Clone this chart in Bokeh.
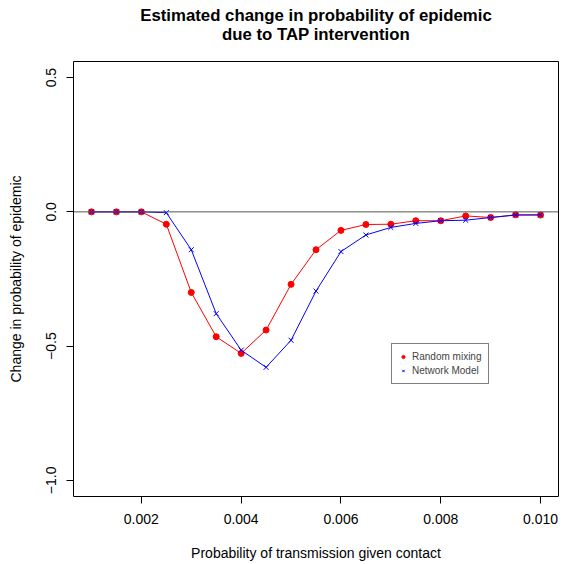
from bokeh.plotting import figure
from bokeh.models import Span, Legend, LegendItem, FixedTicker, Title
from bokeh.embed import file_html
from bokeh.resources import INLINE

# ---- data ----
prob = [0.001, 0.0015, 0.002, 0.0025, 0.003, 0.0035, 0.004, 0.0045, 0.005, 0.0055,
        0.006, 0.0065, 0.007, 0.0075, 0.008, 0.0085, 0.009, 0.0095, 0.010]
random_mixing = [0.0, 0.0, 0.0, -0.046, -0.30, -0.465, -0.527, -0.44, -0.27, -0.141,
                 -0.069, -0.047, -0.046, -0.033, -0.033, -0.015, -0.021, -0.011, -0.012]
network_model = [0.0, 0.0, 0.0, -0.003, -0.141, -0.379, -0.515, -0.579, -0.478, -0.295,
                 -0.148, -0.086, -0.058, -0.043, -0.033, -0.031, -0.021, -0.012, -0.011]
x_ticks = [0.002, 0.004, 0.006, 0.008, 0.010]
x_tick_labels = ["0.002", "0.004", "0.006", "0.008", "0.010"]
y_ticks = [-1.0, -0.5, 0.0, 0.5]
y_tick_labels = ["\u22121.0", "\u22120.5", "0.0", "0.5"]
series_names = ["Random mixing", "Network Model"]
title_lines = ["Estimated change in probability of epidemic", "due to TAP intervention"]

FONT = "Liberation Sans"

p = figure(width=562, height=564, x_range=(0.00064, 0.01036), y_range=(-1.06, 0.56),
           output_backend="svg", toolbar_location=None,
           min_border_left=73, min_border_right=4, min_border_top=61, min_border_bottom=68)
p.background_fill_color = "white"
p.border_fill_color = "white"
p.outline_line_color = "black"
p.outline_line_width = 1
p.xgrid.visible = False
p.ygrid.visible = False

p.title.text = title_lines[0]
p.title.align = "center"
p.title.text_font = FONT
p.title.text_font_size = "16.8px"
p.title.text_font_style = "bold"
p.title.text_color = "black"
p.title.standoff = -40

t2 = Title(text=title_lines[1], align="center", text_font=FONT, text_font_size="16.8px",
           text_font_style="bold", text_color="black", standoff=36)
p.add_layout(t2, "above")

for ax in (p.xaxis[0], p.yaxis[0]):
    ax.axis_line_color = None
    ax.major_tick_in = 0
    ax.major_tick_out = 7
    ax.minor_tick_line_color = None
    ax.major_tick_line_color = "black"
    ax.major_label_text_font = FONT
    ax.major_label_text_font_size = "14px"
    ax.major_label_text_color = "black"
    ax.axis_label_text_font = FONT
    ax.axis_label_text_font_size = "14px"
    ax.axis_label_text_font_style = "normal"
    ax.axis_label_text_color = "black"

p.xaxis.ticker = FixedTicker(ticks=x_ticks)
p.xaxis.major_label_overrides = dict(zip(x_ticks, x_tick_labels))
p.xaxis.axis_label = "Probability of transmission given contact"
p.xaxis.major_label_standoff = 10
p.xaxis.axis_label_standoff = 18

p.yaxis.ticker = FixedTicker(ticks=y_ticks)
p.yaxis.major_label_overrides = dict(zip(y_ticks, y_tick_labels))
p.yaxis.major_label_orientation = "vertical"
p.yaxis.axis_label = "Change in probability of epidemic"
p.yaxis.major_label_standoff = 10
p.yaxis.axis_label_standoff = 20

p.add_layout(Span(location=0, dimension="width", line_color="#555555", line_width=1))

p.line(prob, random_mixing, line_color="red", line_width=1)
r1 = p.scatter(prob, random_mixing, marker="circle", size=6, fill_color="red", line_color="red")
p.line(prob, network_model, line_color="blue", line_width=1)
r2 = p.scatter(prob, network_model, marker="x", size=7, line_color="blue", line_width=1)

legend = Legend(items=[LegendItem(label=series_names[0], renderers=[r1]),
                       LegendItem(label=series_names[1], renderers=[r2])],
                location=(318, 112))
legend.border_line_color = "black"
legend.border_line_width = 1
legend.background_fill_alpha = 1
legend.label_text_font = FONT
legend.label_text_font_size = "10px"
legend.label_height = 11
legend.glyph_height = 11
legend.glyph_width = 8
legend.spacing = 3
legend.padding = 7
legend.margin = 0
legend.label_standoff = 5
p.add_layout(legend, "center")

open("out.html", "w").write(file_html(p, INLINE))
